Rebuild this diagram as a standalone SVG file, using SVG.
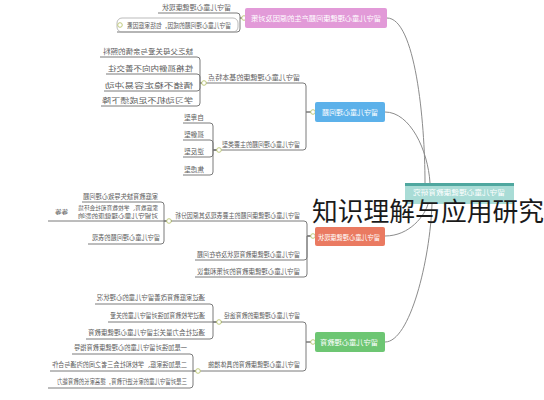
<svg xmlns="http://www.w3.org/2000/svg" width="544" height="400" viewBox="0 0 544 400">
<style>
.lbl{font-family:"Noto Sans CJK SC","Noto Sans",sans-serif;font-size:7px;fill:#606060}
.sm{font-size:6px}
.nt{font-family:"Noto Sans CJK SC","Noto Sans",sans-serif;font-size:7px;fill:#fff}
.ln{fill:none;stroke:#8c8c8c;stroke-width:1}
.ul{fill:none;stroke:#7a7a7a;stroke-width:1}
.mk{fill:#fff;stroke:#b9c46e;stroke-width:0.9}
</style>
<rect width="544" height="400" fill="#fff"/>
<g id="connectors">
<path class="ln" d="M387,18 C415,18 425,120 425,183"/>
<path class="ln" d="M385,112 C410,112 428,150 430,183"/>
<path class="ln" d="M385,236 C410,236 425,215 428,204"/>
<path class="ln" d="M385,342 C410,342 430,260 432,204"/>
<path class="ul" d="M245,18 H240 V16 Q240,13 237,13 H158"/>
<path class="ul" d="M245,18 H240 V29 Q240,32 237,32 H117"/>
<rect x="117" y="18" width="121" height="14" rx="5" fill="none" stroke="#aaa" stroke-width="0.8"/>
<path class="ul" d="M315,112 H306 V86 Q306,83 303,83 H206"/>
<path class="ul" d="M315,112 H306 V147 Q306,150 303,150 H221"/>
<path class="ul" d="M205,83 H200 V60 Q200,57 197,57 H100"/>
<path class="ul" d="M205,83 H200 V77 Q200,74 197,74 H106"/>
<path class="ul" d="M205,83 H200 V88 Q200,91 197,91 H104"/>
<path class="ul" d="M205,83 H200 V103 Q200,106 197,106 H101"/>
<path class="ul" d="M221,150 H213 V126 Q213,123 210,123 H183"/>
<path class="ul" d="M221,150 H213 V143 Q213,140 210,140 H183"/>
<path class="ul" d="M221,150 H213 V154 Q213,157 210,157 H183"/>
<path class="ul" d="M221,150 H213 V172 Q213,175 210,175 H183"/>
<path class="ul" d="M315,236 H307 V224 Q307,221 304,221 H172"/>
<path class="ul" d="M315,236 H307 V257 Q307,260 304,260 H195"/>
<path class="ul" d="M315,236 H307 V274 Q307,277 304,277 H195"/>
<path class="ul" d="M172,221 H164 V205 Q164,202 161,202 H82"/>
<path class="ul" d="M172,221 H48"/>
<path class="ul" d="M172,221 H164 V241 Q164,244 161,244 H88"/>
<path class="ul" d="M315,342 H306 V325 Q306,322 303,322 H222"/>
<path class="ul" d="M315,342 H306 V368 Q306,371 303,371 H200"/>
<path class="ul" d="M222,322 H213 V307 Q213,304 210,304 H95"/>
<path class="ul" d="M222,322 H108"/>
<path class="ul" d="M222,322 H213 V336 Q213,339 210,339 H86"/>
<path class="ul" d="M200,371 H193 V357 Q193,354 190,354 H72"/>
<path class="ul" d="M200,371 H50"/>
<path class="ul" d="M200,371 H193 V385 Q193,388 190,388 H48"/>
<circle class="mk" cx="244" cy="18" r="2.3"/>
<circle class="mk" cx="313" cy="112" r="2.3"/>
<circle class="mk" cx="313" cy="236" r="2.3"/>
<circle class="mk" cx="313" cy="342" r="2.3"/>
<circle class="mk" cx="204" cy="83" r="2.3"/>
<circle class="mk" cx="219" cy="150" r="2.3"/>
<circle class="mk" cx="169" cy="221" r="2.3"/>
<circle class="mk" cx="219" cy="322" r="2.3"/>
<circle class="mk" cx="198" cy="371" r="2.3"/>
<circle class="mk" cx="120" cy="25" r="2.3"/>
</g>
<g id="center">
<rect x="405" y="183" width="109" height="21" rx="2" fill="#a9dcd6"/>
<rect x="405" y="183" width="109" height="3" fill="#4fa79f"/>
<text class="nt" transform="translate(505,195) scale(-1,1)" textLength="92" lengthAdjust="spacingAndGlyphs">留守儿童心理健康教育研究</text>
</g>
<g id="pink">
<rect x="245" y="8" width="142" height="20" rx="2" fill="#e29ad8"/>
<text class="nt" transform="translate(381,21) scale(-1,1)" textLength="130" lengthAdjust="spacingAndGlyphs">留守儿童心理健康问题产生的原因及对策</text>
</g>
<g id="p1"><text class="lbl" transform="translate(231,10) scale(-1,1)" textLength="69" lengthAdjust="spacingAndGlyphs">留守儿童心理健康现状</text></g>
<g id="p2"><text class="lbl" transform="translate(231,28) scale(-1,1)" textLength="104" lengthAdjust="spacingAndGlyphs">留守儿童心理问题的成因，包括家庭因素</text></g>
<g id="blue">
<rect x="315" y="102" width="70" height="20" rx="2" fill="#5cb1ea"/>
<text class="nt" transform="translate(378,115) scale(-1,1)" textLength="56" lengthAdjust="spacingAndGlyphs">留守儿童心理问题</text>
</g>
<g id="b1"><text class="lbl" transform="translate(300,80) scale(-1,1)" textLength="92" lengthAdjust="spacingAndGlyphs">留守儿童心理健康的基本特点</text></g>
<g id="b1a"><text class="lbl" transform="translate(193,54) scale(-1,1)" textLength="90" lengthAdjust="spacingAndGlyphs">缺乏父母关爱与亲情的照料</text></g>
<g id="b1b"><text class="lbl" transform="translate(193,71) scale(-1,1)" textLength="85" lengthAdjust="spacingAndGlyphs">性格孤僻内向不善交往</text></g>
<g id="b1c"><text class="lbl" transform="translate(193,88) scale(-1,1)" textLength="88" lengthAdjust="spacingAndGlyphs">情绪不稳定容易冲动</text></g>
<g id="b1d"><text class="lbl" transform="translate(193,103) scale(-1,1)" textLength="91" lengthAdjust="spacingAndGlyphs">学习动机不足成绩下降</text></g>
<g id="b2"><text class="lbl" transform="translate(300,147) scale(-1,1)" textLength="78" lengthAdjust="spacingAndGlyphs">留守儿童心理问题的主要类型</text></g>
<g id="b2a"><text class="lbl" transform="translate(204,120) scale(-1,1)" textLength="20" lengthAdjust="spacingAndGlyphs">自卑型</text></g>
<g id="b2b"><text class="lbl" transform="translate(204,137) scale(-1,1)" textLength="20" lengthAdjust="spacingAndGlyphs">孤僻型</text></g>
<g id="b2c"><text class="lbl" transform="translate(204,154) scale(-1,1)" textLength="20" lengthAdjust="spacingAndGlyphs">逆反型</text></g>
<g id="b2d"><text class="lbl" transform="translate(204,172) scale(-1,1)" textLength="20" lengthAdjust="spacingAndGlyphs">焦虑型</text></g>
<g id="orange">
<rect x="315" y="227" width="70" height="19" rx="2" fill="#ea7a61"/>
<text class="nt" transform="translate(380,240) scale(-1,1)" textLength="62" lengthAdjust="spacingAndGlyphs">留守儿童心理健康现状</text>
</g>
<g id="o1"><text class="lbl" transform="translate(300,218) scale(-1,1)" textLength="125" lengthAdjust="spacingAndGlyphs">留守儿童心理健康问题的主要表现及其原因分析</text></g>
<g id="o1a"><text class="lbl" transform="translate(158,199) scale(-1,1)" textLength="75" lengthAdjust="spacingAndGlyphs">家庭教育缺失导致心理问题</text></g>
<g id="o1b">
<text class="lbl sm" transform="translate(158,210) scale(-1,1)" textLength="80" lengthAdjust="spacingAndGlyphs">家庭教育、学校教育和社会环境</text>
<text class="lbl sm" transform="translate(158,218) scale(-1,1)" textLength="80" lengthAdjust="spacingAndGlyphs">对留守儿童心理健康的影响</text>
<text class="lbl sm" transform="translate(68,214) scale(-1,1)" textLength="13" lengthAdjust="spacingAndGlyphs">等等</text>
</g>
<g id="o1c"><text class="lbl" transform="translate(160,240) scale(-1,1)" textLength="68" lengthAdjust="spacingAndGlyphs">留守儿童心理问题的表现</text></g>
<g id="o2"><text class="lbl" transform="translate(300,257) scale(-1,1)" textLength="103" lengthAdjust="spacingAndGlyphs">留守儿童心理健康教育现状及存在问题</text></g>
<g id="o3"><text class="lbl" transform="translate(300,274) scale(-1,1)" textLength="103" lengthAdjust="spacingAndGlyphs">留守儿童心理健康教育的对策和建议</text></g>
<g id="green">
<rect x="315" y="332" width="70" height="20" rx="2" fill="#6dc673"/>
<text class="nt" transform="translate(378,345) scale(-1,1)" textLength="58" lengthAdjust="spacingAndGlyphs">留守儿童心理教育</text>
</g>
<g id="g1"><text class="lbl" transform="translate(300,318) scale(-1,1)" textLength="76" lengthAdjust="spacingAndGlyphs">留守儿童心理健康的教育途径</text></g>
<g id="g1a"><text class="lbl" transform="translate(205,300) scale(-1,1)" textLength="108" lengthAdjust="spacingAndGlyphs">通过家庭教育改善留守儿童的心理状况</text></g>
<g id="g1b"><text class="lbl" transform="translate(205,318) scale(-1,1)" textLength="95" lengthAdjust="spacingAndGlyphs">通过学校教育加强对留守儿童的关爱</text></g>
<g id="g1c"><text class="lbl" transform="translate(205,335) scale(-1,1)" textLength="117" lengthAdjust="spacingAndGlyphs">通过社会力量关注留守儿童心理健康教育</text></g>
<g id="g2"><text class="lbl" transform="translate(300,367) scale(-1,1)" textLength="92" lengthAdjust="spacingAndGlyphs">留守儿童心理健康教育的具体措施</text></g>
<g id="g2a"><text class="lbl" transform="translate(187,350) scale(-1,1)" textLength="113" lengthAdjust="spacingAndGlyphs">一是加强对留守儿童的心理健康教育指导</text></g>
<g id="g2b"><text class="lbl" transform="translate(187,367) scale(-1,1)" textLength="135" lengthAdjust="spacingAndGlyphs">二是加强家庭、学校和社会三者之间的沟通与合作</text></g>
<g id="g2c"><text class="lbl" transform="translate(187,384) scale(-1,1)" textLength="130" lengthAdjust="spacingAndGlyphs">三是对留守儿童的家长进行教育，提高家长的教育能力</text></g>
<g id="overlay"><text x="312" y="221" font-family="'Noto Sans CJK SC',sans-serif" font-size="26" fill="#1a1a1a" textLength="232" lengthAdjust="spacingAndGlyphs">知识理解与应用研究</text></g>
</svg>
